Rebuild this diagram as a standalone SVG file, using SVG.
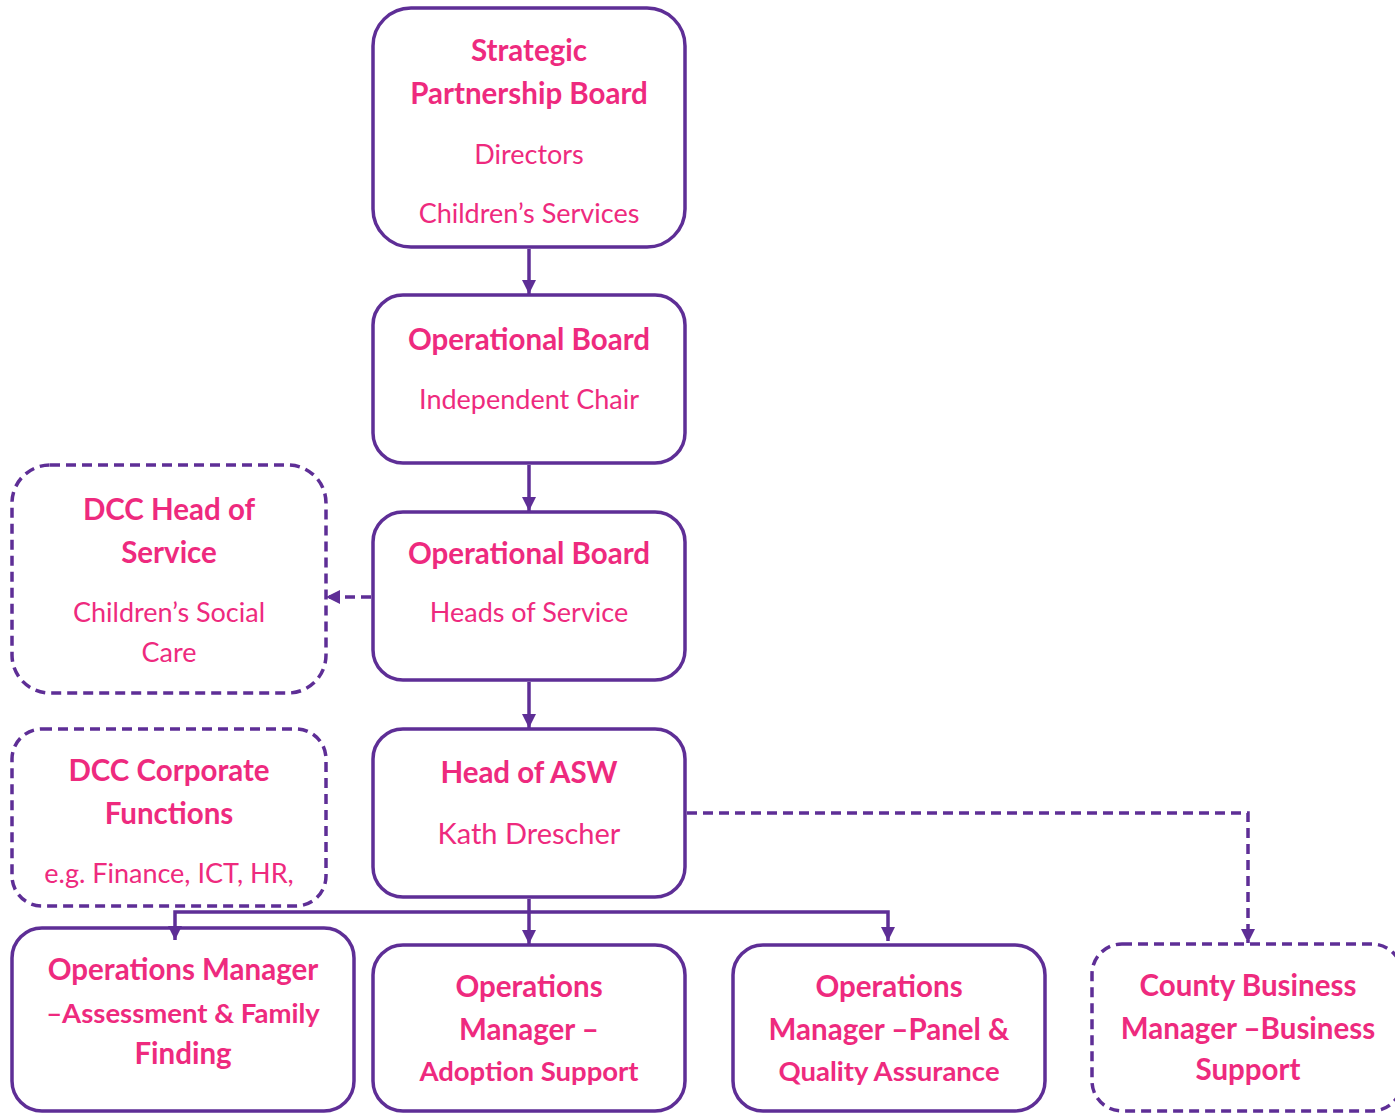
<svg xmlns="http://www.w3.org/2000/svg" width="1395" height="1113" viewBox="0 0 1395 1113">
<style>
.box{fill:#fff;stroke:#5E2E96;stroke-width:3.5}
.dash{stroke-dasharray:10 6}
.t{font-family:Lato,"Open Sans","Liberation Sans",sans-serif;fill:#EE2A7E;text-anchor:middle}
.b{font-weight:bold;font-size:29.5px}
.s{font-size:27.5px}
.r{font-size:27px}
.c{fill:none;stroke:#5E2E96;stroke-width:3.5}
</style>
<defs>
<marker id="ah" markerUnits="userSpaceOnUse" markerWidth="16" markerHeight="16" refX="14" refY="7" orient="auto">
<path d="M0,0 L14,7 L0,14 Z" fill="#5E2E96"/>
</marker>
</defs>
<g id="n-spb">
<rect class="box" x="373" y="8" width="312" height="239" rx="38"/>
<text class="t b" x="529" y="61">Strategic</text>
<text class="t b" x="529" y="104">Partnership Board</text>
<text class="t r" x="529" y="164">Directors</text>
<text class="t r" x="529" y="223">Children’s Services</text>
</g>
<g id="n-ob1">
<rect class="box" x="373" y="295" width="312" height="168" rx="30"/>
<text class="t b" x="529" y="350">Operational Board</text>
<text class="t r" x="529" y="409">Independent Chair</text>
</g>
<g id="n-ob2">
<rect class="box" x="373" y="512" width="312" height="168" rx="30"/>
<text class="t b" x="529" y="564">Operational Board</text>
<text class="t r" x="529" y="622">Heads of Service</text>
</g>
<g id="n-asw">
<rect class="box" x="373" y="729" width="312" height="168" rx="30"/>
<text class="t b" x="529" y="783">Head of ASW</text>
<text class="t r" x="529" y="844" style="font-size:29px">Kath Drescher</text>
</g>
<g id="n-dcchead">
<rect class="box dash" x="12" y="465" width="314" height="228" rx="38"/>
<text class="t b" x="169" y="520">DCC Head of</text>
<text class="t b" x="169" y="563">Service</text>
<text class="t r" x="169" y="622">Children’s Social</text>
<text class="t r" x="169" y="662">Care</text>
</g>
<g id="n-dcccorp">
<rect class="box dash" x="12" y="729" width="314" height="177" rx="30"/>
<text class="t b" x="169" y="781">DCC Corporate</text>
<text class="t b" x="169" y="824">Functions</text>
<text class="t r" x="169" y="883">e.g. Finance, ICT, HR,</text>
</g>
<g id="n-aff">
<rect class="box" x="12" y="928" width="342" height="183" rx="30"/>
<text class="t b" x="183" y="980">Operations Manager</text>
<text class="t b s" x="183" y="1023">–Assessment &amp; Family</text>
<text class="t b" x="183" y="1064">Finding</text>
</g>
<g id="n-adopt">
<rect class="box" x="373" y="945" width="312" height="166" rx="30"/>
<text class="t b" x="529" y="997">Operations</text>
<text class="t b" x="529" y="1040">Manager –</text>
<text class="t b s" x="529" y="1081">Adoption Support</text>
</g>
<g id="n-panel">
<rect class="box" x="733" y="945" width="312" height="166" rx="30"/>
<text class="t b" x="889" y="997">Operations</text>
<text class="t b" x="889" y="1040">Manager –Panel &amp;</text>
<text class="t b s" x="889" y="1081">Quality Assurance</text>
</g>
<g id="n-county">
<rect class="box dash" x="1092" y="944" width="310" height="167" rx="30"/>
<text class="t b" x="1248" y="996">County Business</text>
<text class="t b" x="1248" y="1039">Manager –Business</text>
<text class="t b" x="1248" y="1080">Support</text>
</g>
<g id="connectors">
<path class="c" d="M529,249 V294" marker-end="url(#ah)"/>
<path class="c" d="M529,465 V511" marker-end="url(#ah)"/>
<path class="c" d="M529,682 V728" marker-end="url(#ah)"/>
<path class="c dash" d="M371,597 H326" marker-end="url(#ah)"/>
<path class="c dash" d="M687,813 H1248 V943" marker-end="url(#ah)"/>
<path class="c" d="M529,899 V944" marker-end="url(#ah)"/>
<path class="c" d="M529,912 H175 V940" marker-end="url(#ah)"/>
<path class="c" d="M529,912 H888 V941" marker-end="url(#ah)"/>
</g>
</svg>
